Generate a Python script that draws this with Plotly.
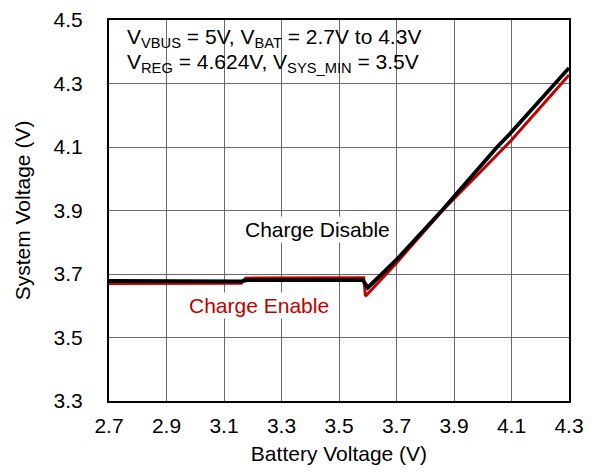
import plotly.graph_objects as go

# Charge Disable (black)
vbat_disable = [2.70, 2.90, 3.10, 3.16, 3.18, 3.40, 3.583, 3.600, 3.700, 3.858, 4.050, 4.100, 4.300]
vsys_disable = [3.678, 3.678, 3.677, 3.677, 3.681, 3.681, 3.681, 3.657, 3.745, 3.900, 4.100, 4.147, 4.349]

# Charge Enable (red)
vbat_enable = [2.70, 2.90, 3.10, 3.160, 3.175, 3.40, 3.586, 3.592, 3.700, 3.860, 4.000, 4.100, 4.300]
vsys_enable = [3.670, 3.670, 3.671, 3.671, 3.687, 3.687, 3.688, 3.630, 3.735, 3.900, 4.030, 4.122, 4.327]

x_ticks = [2.7, 2.9, 3.1, 3.3, 3.5, 3.7, 3.9, 4.1, 4.3]
y_ticks = [3.3, 3.5, 3.7, 3.9, 4.1, 4.3, 4.5]

FONT = "Liberation Sans, Arial, sans-serif"
RED = "#C00000"
FS = 21

fig = go.Figure()
fig.add_trace(go.Scatter(x=vbat_enable, y=vsys_enable, mode="lines",
                         line=dict(color=RED, width=3), showlegend=False))
fig.add_trace(go.Scatter(x=vbat_disable, y=vsys_disable, mode="lines",
                         line=dict(color="black", width=3.8), showlegend=False))

# white box behind the conditions text (above grid, below data)
fig.add_shape(type="rect", xref="paper", yref="paper",
              x0=0.006, x1=0.72, y0=0.845, y1=0.987,
              fillcolor="white", line=dict(width=0), layer="between")

fig.add_annotation(xref="paper", yref="paper", x=0.034, y=0.953,
                   xanchor="left", yanchor="middle", align="left",
                   text="V<sub>VBUS</sub> = 5V, V<sub>BAT</sub> = 2.7V to 4.3V",
                   showarrow=False,
                   font=dict(family=FONT, size=FS, color="black"))
fig.add_annotation(xref="paper", yref="paper", x=0.034, y=0.888,
                   xanchor="left", yanchor="middle", align="left",
                   text="V<sub>REG</sub> = 4.624V, V<sub>SYS_MIN</sub> = 3.5V",
                   showarrow=False,
                   font=dict(family=FONT, size=FS, color="black"))
fig.add_annotation(x=3.424, y=3.839, text="Charge Disable", showarrow=False,
                   bgcolor="white", borderpad=1,
                   font=dict(family=FONT, size=FS, color="black"))
fig.add_annotation(x=3.222, y=3.602, text="Charge Enable", showarrow=False,
                   bgcolor="white", borderpad=1,
                   font=dict(family=FONT, size=FS, color=RED))

axis_common = dict(showline=True, linecolor="black", linewidth=2, mirror=True,
                   showgrid=True, gridcolor="#6a6a6a", gridwidth=1,
                   zeroline=False, ticks="outside", tickcolor="rgba(0,0,0,0)",
                   tickfont=dict(family=FONT, size=FS, color="black"))

fig.update_xaxes(range=[2.7, 4.3], tickvals=x_ticks, ticklen=5,
                 ticktext=[f"{v:.1f}" for v in x_ticks],
                 title=dict(text="Battery Voltage (V)", standoff=19,
                            font=dict(family=FONT, size=FS, color="black")),
                 **axis_common)
fig.update_yaxes(range=[3.3, 4.5], tickvals=y_ticks, ticklen=20,
                 ticktext=[f"{v:.1f}" for v in y_ticks],
                 title=dict(text="System Voltage (V)", standoff=17,
                            font=dict(family=FONT, size=FS, color="black")),
                 **axis_common)

# the page adds an 8px body margin; the figure is sized and offset for it
fig.update_layout(width=578, height=457, paper_bgcolor="white", plot_bgcolor="white",
                  margin=dict(l=101, r=17, t=12, b=64, autoexpand=False),
                  font=dict(family=FONT, size=FS, color="black"))

fig.write_html("out.html")
